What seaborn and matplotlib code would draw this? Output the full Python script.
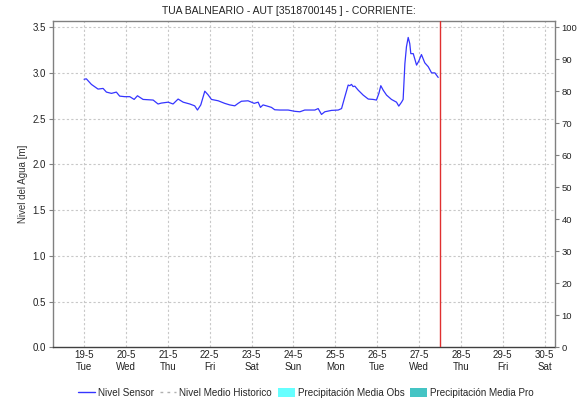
import numpy as np
import pandas as pd
import matplotlib
matplotlib.use("Agg")
import matplotlib.pyplot as plt
import matplotlib.dates as mdates
from matplotlib.lines import Line2D
from matplotlib.patches import Patch
import seaborn as sns

sns.set_theme(style="white")
plt.rcParams["font.family"] = ["Liberation Sans", "DejaVu Sans"]

# Sensor readings: hours after 19-5 00:00 and water level [m]
hours = [0.0, 1.3, 4.2, 8.0, 10.9, 12.8, 15.7, 18.5, 20.4, 23.3, 26.2, 27.5,
         28.7, 30.6, 33.8, 39.6, 42.4, 44.3, 48.2, 51.0, 53.9, 56.8, 60.6,
         63.4, 65.0, 66.9, 69.2, 71.1, 73.0, 76.9, 80.6, 83.5, 86.4, 88.3,
         90.2, 94.0, 95.9, 97.5, 99.8, 101.1, 102.6, 104.5, 107.4, 109.3,
         112.2, 117.0, 120.8, 123.7, 126.5, 132.3, 134.2, 136.1, 138.0,
         141.8, 145.7, 147.6, 149.5, 151.4, 152.3, 153.3, 154.2, 155.2,
         157.1, 160.0, 162.9, 165.7, 167.6, 169.0, 170.1, 171.5, 173.4,
         176.2, 179.1, 180.4, 182.0, 182.9, 183.9, 184.8, 185.8, 186.7,
         187.3, 188.7, 190.6, 191.9, 193.4, 195.3, 197.3, 199.2, 201.1, 203.0]
nivel = [2.93, 2.935, 2.874, 2.823, 2.83, 2.79, 2.776, 2.79, 2.746, 2.74, 2.74, np.nan,
         2.71, 2.75, 2.71, 2.703, 2.66, 2.67, 2.68, 2.66, 2.714, 2.68, 2.66,
         2.64, 2.594, 2.65, 2.80, 2.76, 2.71, 2.695, 2.667, 2.65, 2.64, 2.667,
         2.69, 2.695, 2.68, 2.667, 2.68, 2.623, 2.65, 2.64, 2.623, 2.597,
         2.594, 2.594, 2.58, 2.575, 2.594, 2.594, 2.61, 2.546, 2.575,
         2.59, 2.594, 2.61, 2.74, 2.867, 2.86, 2.874, 2.85, 2.855,
         2.812, 2.757, 2.714, 2.71, 2.703, 2.776, 2.86, 2.81, 2.757,
         2.71, 2.68, 2.637, 2.68, 2.71, 3.10, 3.285, 3.387, 3.32,
         3.21, 3.21, 3.085, 3.13, 3.20, 3.11, 3.067, 3.00, 3.00, 2.95]

start = pd.Timestamp("2020-05-19 00:00")
now = pd.Timestamp("2020-05-27 12:00")
x_min = pd.Timestamp("2020-05-18 06:00")
x_max = pd.Timestamp("2020-05-30 06:00")
day_ticks = pd.date_range("2020-05-19", "2020-05-30", freq="D")

df = pd.DataFrame({"fecha": start + pd.to_timedelta(hours, unit="h"),
                   "nivel": nivel})

fig = plt.figure(figsize=(5.77, 4.05), dpi=100)
ax = fig.add_axes([0.0913, 0.142, 0.8707, 0.806])

grid_kw = dict(color="#c8c8c8", linestyle=(0, (2, 2)), linewidth=0.8, zorder=0)
for y in np.arange(0.5, 3.6, 0.5):
    ax.axhline(y, **grid_kw)
for d in day_ticks:
    ax.axvline(d, **grid_kw)

sns.lineplot(data=df, x="fecha", y="nivel", ax=ax, color="#3535ff",
             linewidth=0.9, legend=False, zorder=3)
ax.axvline(now, color="#e03030", linewidth=1.0, zorder=4)

ax.set_xlim(x_min, x_max)
ax.set_ylim(0, 3.566)
ax.set_yticks(np.arange(0, 3.51, 0.5))
ax.set_yticklabels([f"{v:.1f}" for v in np.arange(0, 3.51, 0.5)])
ax.set_xticks(day_ticks)
ax.xaxis.set_major_formatter(
    matplotlib.ticker.FuncFormatter(
        lambda v, _: f"{mdates.num2date(v).day}-{mdates.num2date(v).month}\n"
                     f"{mdates.num2date(v).strftime('%a')}"))
ax.set_xlabel("")
ax.set_ylabel("Nivel del Agua [m]", fontsize=7, color="#333333", labelpad=3)

for s in ["left", "right", "top"]:
    ax.spines[s].set_color("#808080")
    ax.spines[s].set_linewidth(1.0)
ax.spines["bottom"].set_color("#404040")
ax.spines["bottom"].set_linestyle((0, (1, 1)))
ax.spines["bottom"].set_linewidth(1.0)

ax.tick_params(axis="y", which="both", left=True, length=3, width=0.8,
               color="#808080", labelsize=7, pad=2, labelcolor="#222222")
ax.tick_params(axis="x", bottom=False, labelsize=7, pad=-4, labelcolor="#222222")

ax2 = ax.twinx()
ax2.set_ylim(0, 100 * 3.566 / 3.5)
ax2.set_yticks(np.arange(0, 101, 10))
ax2.tick_params(axis="y", right=True, length=3, width=0.8, color="#808080",
                labelsize=6.8, pad=1.5, labelcolor="#222222")
for s in ax2.spines.values():
    s.set_visible(False)
ax2.grid(False)

fig.text(0.5, 0.973, "TUA BALNEARIO - AUT [3518700145 ] - CORRIENTE:",
         ha="center", va="center", fontsize=7.5, color="#222222")

handles = [
    Line2D([], [], color="#3535ff", linewidth=1.0),
    Line2D([], [], color="#b0b0b0", linewidth=1.0, linestyle=(0, (2, 3))),
    Patch(facecolor="#66ffff", edgecolor="none"),
    Patch(facecolor="#44c4c4", edgecolor="none"),
]
labels = ["Nivel Sensor", "Nivel Medio Historico",
          "Precipitación Media Obs", "Precipitación Media Pro"]
fig.legend(handles, labels, loc="center", bbox_to_anchor=(0.53, 0.03),
           ncol=4, frameon=False, fontsize=7.1, handlelength=1.7,
           handletextpad=0.3, columnspacing=0.6, handleheight=0.9)

fig.savefig("out.png", dpi=100)
